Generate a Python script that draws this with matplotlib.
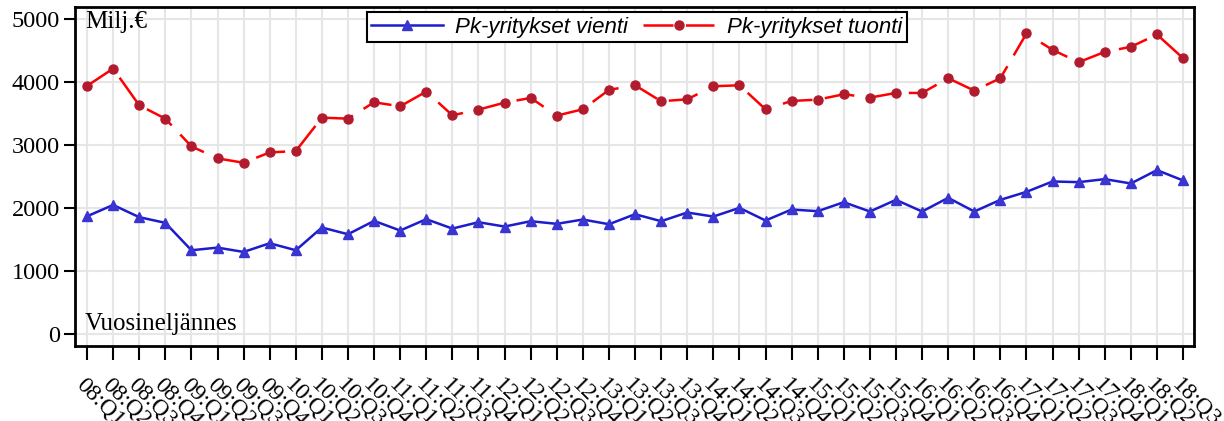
import matplotlib
matplotlib.use("Agg")
from matplotlib import pyplot as plt

# quarters 2008 Q1 .. 2018 Q3
quarters = [f"{y:02d}:Q{q}" for y in range(8, 19) for q in range(1, 5)][:43]

vienti = [1870, 2050, 1856, 1766, 1331, 1373, 1304, 1442, 1331, 1692, 1585, 1797,
          1644, 1824, 1675, 1776, 1707, 1792, 1750, 1819, 1744, 1903, 1792, 1930,
          1866, 2004, 1803, 1978, 1951, 2094, 1946, 2131, 1946, 2163, 1946, 2131,
          2258, 2423, 2412, 2460, 2391, 2603, 2439]

tuonti = [3940, 4215, 3632, 3420, 2980, 2789, 2720, 2884, 2906, 3436, 3420, 3680,
          3616, 3850, 3473, 3563, 3674, 3749, 3468, 3569, 3876, 3950, 3696, 3727,
          3934, 3950, 3569, 3701, 3722, 3807, 3754, 3828, 3828, 4062, 3865, 4062,
          4772, 4512, 4316, 4480, 4560, 4756, 4380]

y_ticks = [0, 1000, 2000, 3000, 4000, 5000]

serif = "Liberation Serif"

fig = plt.figure(figsize=(12.24, 4.21), dpi=100)
ax = fig.add_axes([0.0613, 0.178, 0.9142, 0.805])

x = list(range(len(quarters)))
ax.plot(x, vienti, color="#1c1ccc", lw=1.8, marker="^", markersize=6.5,
        markerfacecolor="#3a35d0", markeredgecolor="#3a35d0",
        label="Pk-yritykset vienti", zorder=3)
ax.plot(x, tuonti, color="#ff0000", lw=1.8, dashes=(12, 5), marker="o", markersize=6.5,
        markerfacecolor="#b01c2e", markeredgecolor="#b01c2e",
        label="Pk-yritykset tuonti", zorder=3)

ax.set_xlim(-0.46, 42.42)
ax.set_ylim(-190, 5190)
ax.set_yticks(y_ticks)
ax.set_xticks(x)
ax.set_xticklabels(quarters, rotation=-45, ha="left", va="top",
                   rotation_mode="anchor", family=serif, fontsize=17)
ax.set_yticklabels([str(v) for v in y_ticks], family=serif, fontsize=17.5)

ax.grid(True, color="#e6e6e6", lw=1.5)
ax.set_axisbelow(True)
for s in ax.spines.values():
    s.set_linewidth(2)
    s.set_color("black")
ax.tick_params(axis="x", direction="out", length=10, width=1.5, pad=10)
ax.tick_params(axis="y", direction="out", length=8, width=1.5, pad=3)

ax.text(0.009, 0.955, "Milj.€", transform=ax.transAxes, family=serif,
        fontsize=18, ha="left", va="center")
ax.text(0.009, 0.065, "Vuosineljännes", transform=ax.transAxes, family=serif,
        fontsize=18, ha="left", va="center")

leg = ax.legend(loc="upper center", bbox_to_anchor=(0.502, 0.985), ncol=2,
                prop={"family": "Liberation Sans", "style": "italic", "size": 16},
                fancybox=False, framealpha=1, edgecolor="black",
                handlelength=3.2, columnspacing=0.7, borderpad=0.2,
                handletextpad=0.55, borderaxespad=0)
leg.get_frame().set_linewidth(1.5)

fig.savefig("out.png", dpi=100)
